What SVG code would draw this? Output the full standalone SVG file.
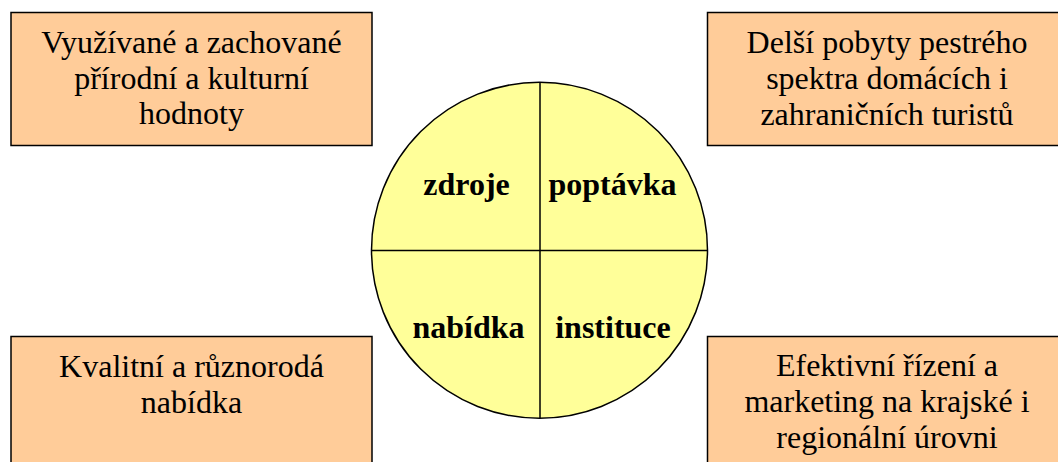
<svg xmlns="http://www.w3.org/2000/svg" width="1058" height="462" viewBox="0 0 1058 462">
<style>
.box{fill:#FFCC99;stroke:#000;stroke-width:1.5}
.t{font-family:"Liberation Serif","Times New Roman",serif;font-size:32px;fill:#000;text-anchor:middle}
.b{font-family:"Liberation Serif","Times New Roman",serif;font-size:32px;font-weight:bold;fill:#000;text-anchor:middle}
</style>
<rect width="1058" height="462" fill="#fff"/>
<g id="box-tl">
<rect class="box" x="11" y="12.5" width="361" height="133"/>
<text class="t" x="191.5" y="53">Využívané a zachované</text>
<text class="t" x="191.5" y="89">přírodní a kulturní</text>
<text class="t" x="191.5" y="124">hodnoty</text>
</g>
<g id="box-tr">
<rect class="box" x="707.5" y="12.5" width="360" height="133"/>
<text class="t" x="887" y="53">Delší pobyty pestrého</text>
<text class="t" x="887" y="89">spektra domácích i</text>
<text class="t" x="887" y="125">zahraničních turistů</text>
</g>
<g id="box-bl">
<rect class="box" x="11" y="336.5" width="361" height="140"/>
<text class="t" x="191.5" y="377">Kvalitní a různorodá</text>
<text class="t" x="191.5" y="413">nabídka</text>
</g>
<g id="box-br">
<rect class="box" x="707.5" y="336.5" width="360" height="140"/>
<text class="t" x="887" y="376">Efektivní řízení a</text>
<text class="t" x="887" y="412">marketing na krajské i</text>
<text class="t" x="887" y="448">regionální úrovni</text>
</g>
<g id="circle">
<circle cx="539.5" cy="250.3" r="168" fill="#FFFF99" stroke="#000" stroke-width="1.5"/>
</g>
<g id="connectors">
<line x1="540" y1="82.3" x2="540" y2="418.3" stroke="#000" stroke-width="1.5"/>
<line x1="371.5" y1="250.5" x2="707.5" y2="250.5" stroke="#000" stroke-width="1.5"/>
</g>
<g id="labels">
<text class="b" x="466.5" y="195">zdroje</text>
<text class="b" x="612.5" y="195">poptávka</text>
<text class="b" x="468.5" y="338">nabídka</text>
<text class="b" x="613" y="338">instituce</text>
</g>
</svg>
